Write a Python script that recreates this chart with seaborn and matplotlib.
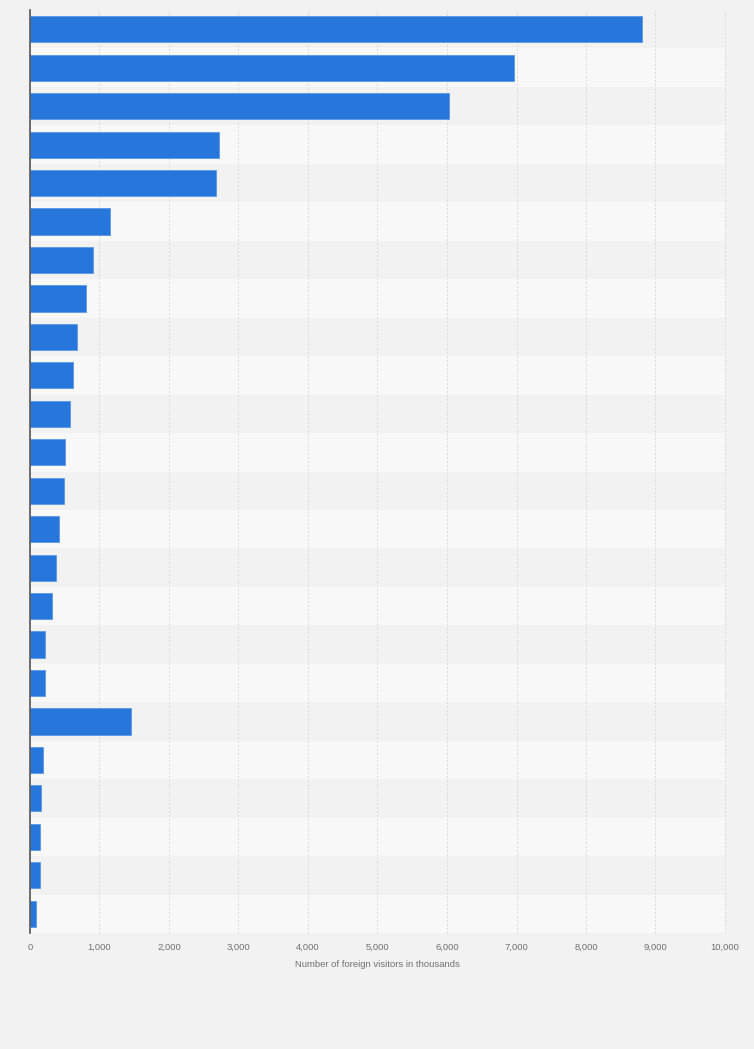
import numpy as np
import pandas as pd
import matplotlib
matplotlib.use("Agg")
import matplotlib.pyplot as plt
import seaborn as sns

# ==============================
# DATA (thousands of visitors)
# ==============================
ranks = [str(i) for i in range(1, 25)]
visitors = [8800, 6960, 6025, 2714, 2671, 1147, 913, 812, 683, 615, 572, 510,
            496, 424, 381, 323, 223, 223, 1449, 180, 165, 151, 137, 93]
x_ticks = [0, 1000, 2000, 3000, 4000, 5000, 6000, 7000, 8000, 9000, 10000]
x_label = "Number of foreign visitors in thousands"

df = pd.DataFrame({"rank": ranks, "visitors": visitors})

# ==============================
# PLOT
# ==============================
sns.set_style("white")
plt.rcParams["font.family"] = ["Liberation Sans", "DejaVu Sans"]

fig = plt.figure(figsize=(7.54, 10.49), dpi=100, facecolor="#f2f2f2")
ax = fig.add_axes([30 / 754, 1 - 933 / 1049, 695 / 754, 923 / 1049])
ax.set_facecolor("#f2f2f2")

# alternating row bands
for i in range(len(ranks)):
    ax.axhspan(i - 0.5, i + 0.5, color="#f2f2f2" if i % 2 == 0 else "#f8f8f8",
               zorder=0, lw=0)

sns.barplot(data=df, x="visitors", y="rank", orient="h", color="#2776db",
            saturation=1, width=0.68, ax=ax, zorder=3,
            edgecolor="#5a97e6", linewidth=0.6)

ax.set_xlim(0, 10000)
ax.set_ylim(len(ranks) - 0.5, -0.5)
ax.set_xticks(x_ticks)
ax.set_xticklabels([f"{t:,}" for t in x_ticks], fontsize=6.8, color="#707070")
ax.tick_params(axis="x", length=0, pad=7)
ax.set_yticks([])
ax.set_ylabel("")
ax.set_xlabel(x_label, fontsize=6.8, color="#707070", labelpad=6)

ax.grid(axis="x", color="#d9d9d9", linestyle=(0, (2, 2)), linewidth=0.7, zorder=1)
ax.set_axisbelow(True)
for line in ax.get_xgridlines():
    line.set_clip_on(False)

for s in ["top", "right", "bottom"]:
    ax.spines[s].set_visible(False)
ax.spines["left"].set_color("#555555")
ax.spines["left"].set_linewidth(1.2)
ax.spines["left"].set_zorder(5)

fig.savefig("out.png", dpi=100, facecolor=fig.get_facecolor())
